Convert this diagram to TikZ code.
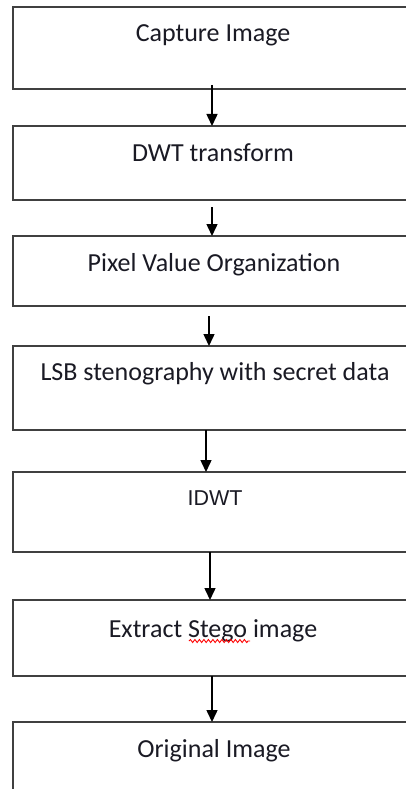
\documentclass[tikz,border=0pt]{standalone}
\usepackage{fontspec}
\setmainfont{Carlito}
\newfontfamily\arialfont{Liberation Sans}
\usetikzlibrary{arrows.meta,decorations.pathmorphing}
\definecolor{boxgray}{HTML}{404040}
\definecolor{txt}{HTML}{1A1A24}
\begin{document}
\begin{tikzpicture}[x=1pt,y=1pt,
  box/.style={draw=boxgray, line width=2pt, minimum width=398pt, inner sep=0pt, outer sep=0pt},
  lbl/.style={anchor=base, inner sep=0pt, font=\fontsize{26}{30}\selectfont, text=txt},
  arr/.style={draw=black, line width=1.5pt, -{Triangle[width=11pt,length=12pt]}}]
\useasboundingbox (0,0) rectangle (406,-789);
\fill[white] (0,0) rectangle (406,-789);
\clip (0,0) rectangle (406,-789);
% boxes
\node[box, minimum height=82pt] (b1) at (212,-48) {};
\node[box, minimum height=74pt] (b2) at (212,-163) {};
\node[box, minimum height=70pt] (b3) at (212,-271) {};
\node[box, minimum height=84pt] (b4) at (212,-388) {};
\node[box, minimum height=80pt] (b5) at (212,-512) {};
\node[box, minimum height=76pt] (b6) at (212,-638) {};
\node[box, minimum height=78pt] (b7) at (212,-761) {};
% texts
\node[lbl] (t1) at (213,-42) {Capture Image};
\node[lbl] (t2) at (213,-161) {DWT transform};
\node[lbl] (t3) at (214,-271) {Pixel Value Organization};
\node[lbl] (t4) at (215,-380) {LSB stenography with secret data};
\node[lbl, font=\arialfont\fontsize{21.5}{26}\selectfont] (t5) at (215,-505) {IDWT};
\node[lbl] (t6) at (213,-637) {Extract Stego image};
\node[lbl] (t7) at (214,-757) {Original Image};
% spell-check underline
\draw[red, line width=0.9pt, decorate, decoration={snake, amplitude=1.5pt, segment length=4.5pt}] (189,-641) -- (250,-641);
% arrows
\draw[arr] ([yshift=4pt]b1.south) -- (b2.north);
\draw[arr] ([yshift=-7pt]b2.south) -- (b3.north);
\draw[arr] ([xshift=-3pt,yshift=-10pt]b3.south) -- ([xshift=-3pt]b4.north);
\draw[arr] ([xshift=-6pt]b4.south) -- ([xshift=-6pt]b5.north);
\draw[arr] ([xshift=-2pt]b5.south) -- ([xshift=-2pt]b6.north);
\draw[arr] (b6.south) -- (b7.north);
\end{tikzpicture}
\end{document}
